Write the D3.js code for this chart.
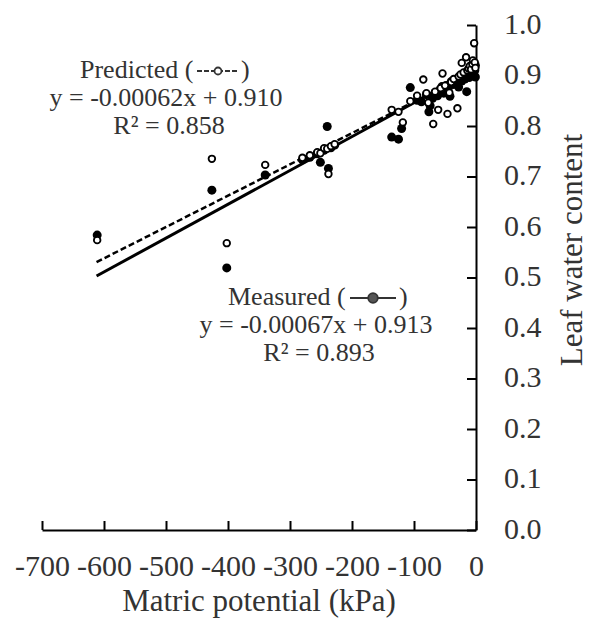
<!DOCTYPE html>
<html>
<head>
<meta charset="utf-8">
<script src="https://cdn.jsdelivr.net/npm/d3@7/dist/d3.min.js"></script>
<style>
  html, body { margin: 0; padding: 0; background: #fff; }
  svg { display: block; }
</style>
</head>
<body>
<script>
// Matric potential (kPa) of each sample, with its measured and predicted leaf water content
const measured = [
  [-611, 0.584], [-426, 0.673], [-402, 0.519], [-340, 0.703], [-280, 0.733],
  [-268, 0.738], [-256, 0.745], [-251, 0.728], [-245, 0.752], [-240, 0.799],
  [-238, 0.716], [-234, 0.757], [-228, 0.762], [-136, 0.778], [-125, 0.774],
  [-120, 0.795], [-106, 0.876], [-95, 0.851], [-88, 0.848], [-80, 0.862],
  [-76, 0.828], [-74, 0.840], [-70, 0.855], [-66, 0.866], [-62, 0.860],
  [-58, 0.872], [-55, 0.878], [-52, 0.865], [-48, 0.880], [-45, 0.874],
  [-42, 0.859], [-40, 0.888], [-37, 0.882], [-34, 0.890], [-31, 0.884],
  [-28, 0.877], [-26, 0.895], [-23, 0.889], [-21, 0.899], [-18, 0.893],
  [-15, 0.868], [-13, 0.902], [-11, 0.896], [-9, 0.908], [-7, 0.900],
  [-5, 0.912], [-4, 0.905], [-3, 0.918], [-2, 0.910], [-1, 0.920], [-1, 0.897]
];
const predicted = [
  [-611, 0.574], [-426, 0.735], [-402, 0.568], [-340, 0.723], [-280, 0.737],
  [-268, 0.742], [-256, 0.748], [-251, 0.746], [-245, 0.756], [-240, 0.755],
  [-238, 0.705], [-234, 0.760], [-228, 0.764], [-136, 0.832], [-125, 0.828],
  [-118, 0.807], [-106, 0.849], [-95, 0.860], [-85, 0.892], [-80, 0.865],
  [-77, 0.846], [-69, 0.804], [-66, 0.868], [-61, 0.832], [-57, 0.875],
  [-54, 0.904], [-50, 0.880], [-46, 0.824], [-43, 0.866], [-40, 0.887],
  [-36, 0.893], [-30, 0.835], [-28, 0.898], [-25, 0.902], [-23, 0.925],
  [-20, 0.906], [-16, 0.936], [-14, 0.910], [-12, 0.914], [-10, 0.919],
  [-8, 0.912], [-6, 0.923], [-5, 0.930], [-3, 0.964], [-2, 0.926], [-1, 0.915]
];

// Linear fits: LWC = intercept - slope * |matric potential|
const fitMeasured = { slope: 0.00067, intercept: 0.913, r2: 0.893 };
const fitPredicted = { slope: 0.00062, intercept: 0.910, r2: 0.858 };
const fitRange = [-612, -1];

const xTicks = [-700, -600, -500, -400, -300, -200, -100, 0];
const yTicks = [0, 0.1, 0.2, 0.3, 0.4, 0.5, 0.6, 0.7, 0.8, 0.9, 1.0];

const SERIF = '"Liberation Serif"';
const INK = "#333";

const W = 589, H = 625;
const svg = d3.select("body").append("svg").attr("width", W).attr("height", H);

const x = d3.scaleLinear().domain([-700, 0]).range([42, 476]);
const y = d3.scaleLinear().domain([0, 1]).range([530, 25]);

// Axes: x along the bottom, y on the right, ticks pointing inward
const xAxis = svg.append("g")
  .attr("transform", `translate(0,${y(0)})`)
  .call(d3.axisBottom(x).tickValues(xTicks).tickFormat(d => String(d))
    .tickSizeInner(-9).tickSizeOuter(0).tickPadding(25));
const yAxis = svg.append("g")
  .attr("transform", `translate(${x(0)},0)`)
  .call(d3.axisRight(y).tickValues(yTicks).tickFormat(d3.format(".1f"))
    .tickSizeInner(-9).tickSizeOuter(0).tickPadding(28));

[xAxis, yAxis].forEach(g => {
  g.attr("font-family", null).attr("font-size", null);
  g.select(".domain").attr("stroke", "#000").attr("stroke-width", 2);
  g.selectAll(".tick line").attr("stroke", "#000").attr("stroke-width", 2);
  g.selectAll(".tick text").style("font-family", SERIF)
    .style("font-size", "30px").attr("fill", INK);
});
yAxis.selectAll(".tick text").attr("dy", "0.28em");

// Axis titles
svg.append("text")
  .attr("x", (x(-700) + x(0)) / 2).attr("y", 611)
  .attr("text-anchor", "middle")
  .style("font-family", SERIF).style("font-size", "31px").attr("fill", INK)
  .text("Matric potential (kPa)");
svg.append("text")
  .attr("transform", "translate(582,250) rotate(-90)")
  .attr("text-anchor", "middle")
  .style("font-family", SERIF).style("font-size", "31px").attr("fill", INK)
  .text("Leaf water content");

// Regression lines
const fitLine = f => d3.line()
  .x(d => x(d))
  .y(d => y(f.intercept - f.slope * Math.abs(d)));

svg.append("path").datum(fitRange)
  .attr("d", fitLine(fitPredicted))
  .attr("fill", "none").attr("stroke", "#000").attr("stroke-width", 2.5)
  .attr("stroke-dasharray", "6,3");
svg.append("path").datum(fitRange)
  .attr("d", fitLine(fitMeasured))
  .attr("fill", "none").attr("stroke", "#000").attr("stroke-width", 3);

// Measured points (filled)
svg.append("g").selectAll("circle").data(measured).join("circle")
  .attr("cx", d => x(d[0])).attr("cy", d => y(d[1]))
  .attr("r", 4.5).attr("fill", "#000");

// Predicted points (open)
svg.append("g").selectAll("circle").data(predicted).join("circle")
  .attr("cx", d => x(d[0])).attr("cy", d => y(d[1]))
  .attr("r", 3.3).attr("fill", "#fff").attr("stroke", "#000").attr("stroke-width", 1.8);

// Equation labels
const fmtSlope = d3.format(".5f"), fmtInt = d3.format(".3f");
function eqBlock(cx, base, name, f, symX, closeX, dashed, dotFill, dotR, nameX) {
  const g = svg.append("g");
  const txt = () => g.append("text").style("font-family", SERIF)
    .style("font-size", "26px").attr("fill", INK);
  txt().attr("x", nameX).attr("y", base).text(name + " (");
  txt().attr("x", closeX).attr("y", base).text(")");
  const sy = base - 7;
  g.append("line").attr("x1", symX[0]).attr("x2", symX[1]).attr("y1", sy).attr("y2", sy)
    .attr("stroke", INK).attr("stroke-width", 2)
    .attr("stroke-dasharray", dashed ? "5,2" : null);
  g.append("circle").attr("cx", (symX[0] + symX[1]) / 2).attr("cy", sy).attr("r", dotR)
    .attr("fill", dotFill).attr("stroke", INK).attr("stroke-width", 1.8);
  txt().attr("x", cx).attr("y", base + 28).attr("text-anchor", "middle")
    .text(`y = -${fmtSlope(f.slope)}x + ${fmtInt(f.intercept)}`);
  txt().attr("x", cx + 3).attr("y", base + 56).attr("text-anchor", "middle")
    .text(`R² = ${fmtInt(f.r2)}`);
}
eqBlock(166, 78, "Predicted", fitPredicted, [197, 239], 241, true, "#fff", 3.5, 80);
eqBlock(316, 305, "Measured", fitMeasured, [350, 396], 399, false, "#555", 4.8, 228);
</script>
</body>
</html>
